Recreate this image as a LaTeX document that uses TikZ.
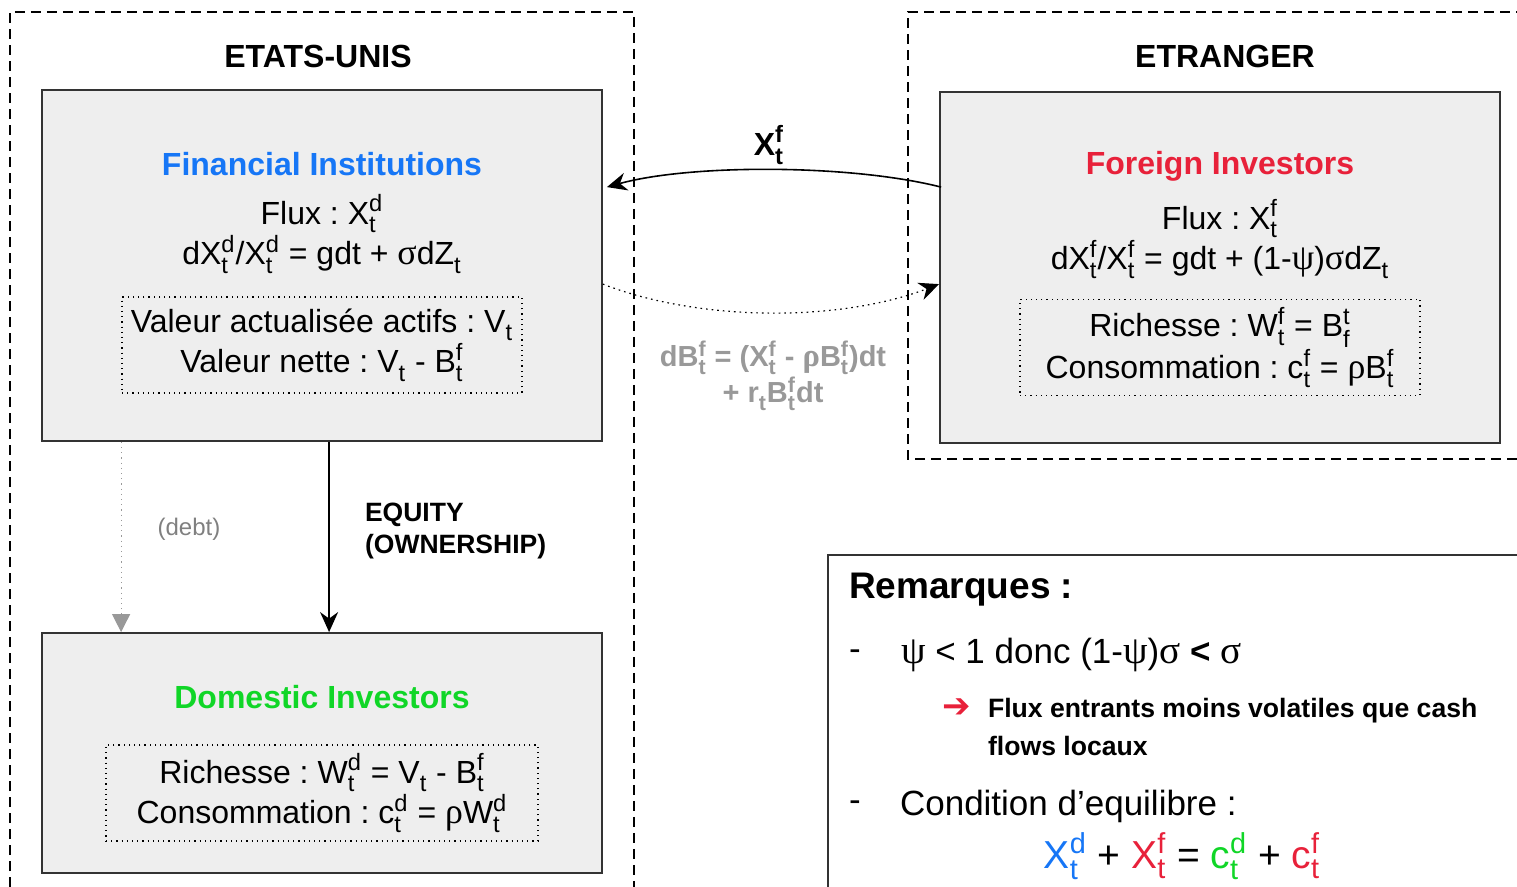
\documentclass[tikz,border=0pt]{standalone}
\usepackage{amsmath}
\usepackage{fontspec}
\setmainfont{Liberation Sans}
\newfontfamily\grk[Scale=1.12]{Liberation Serif}
\newfontfamily\dejavu{DejaVu Sans}
\usepackage{tikz}
\usetikzlibrary{calc}
\usetikzlibrary{positioning}
\usetikzlibrary{arrows.meta}

\definecolor{fiblue}{RGB}{22,118,246}
\definecolor{foired}{RGB}{232,33,58}
\definecolor{digreen}{RGB}{16,214,39}
\definecolor{boxfill}{RGB}{238,238,238}
\definecolor{lightgray}{RGB}{153,153,153}
\definecolor{debtgray}{RGB}{128,128,128}

\renewcommand{\defaultscriptratio}{.74}
\newcommand{\ts}[2]{\ensuremath{_{\text{#1}}^{\text{#2}}}}
\newcommand{\gk}[1]{{\grk #1}}
\frenchspacing

\begin{document}
\begin{tikzpicture}[x=0.5pt,y=-0.5pt,
    zone/.style={dash pattern=on 5pt off 3pt, line width=0.8pt},
    agent/.style={draw=black!80, fill=boxfill, line width=0.9pt, minimum width=280pt, inner sep=0pt},
    detail/.style={draw, dotted, line width=0.6pt, minimum width=200pt, minimum height=48pt, inner sep=0pt},
    body/.style={font=\fontsize{16}{19}\selectfont, align=center},
    head/.style={font=\bfseries\fontsize{16}{19}\selectfont},
    rem/.style={font=\fontsize{17.5}{21}\selectfont},
    flow/.style={-{Stealth[length=10pt,width=9pt]}, line width=0.8pt}]
    \useasboundingbox (0,0) rectangle (1517,887);

    % zones
    \draw[zone] (10,887) -- (10,12) -- (634,12) -- (634,887);
    \draw[zone] (1517,459) -- (908,459) -- (908,12) -- (1517,12);
    \draw[line width=0.8pt, black!80] (1517,555) -- (828,555) -- (828,887);
    \node[head] (us) at (318,56) {ETATS-UNIS};
    \node[head] (etr) at (1225,56) {ETRANGER};

    % agents
    \node[agent, minimum height=175.5pt] (fi) at (322,265.5) {};
    \node[agent, minimum height=175.5pt] (foi) at (1220,267.5) {};
    \node[agent, minimum height=120pt] (di) at (322,753) {};

    \node[head, text=fiblue] (fititle) at (322,164) {Financial Institutions};
    \node[body] (fiflux) at (322,234) {Flux : X\ts{t}{d}\\ dX\ts{t}{d}/X\ts{t}{d} = gdt + \gk{σ}dZ\ts{t}{}};
    \node[detail, body] (fival) at (322,345) {Valeur actualisée actifs : V\ts{t}{}\\ Valeur nette : V\ts{t}{} - B\ts{t}{f}};

    \node[head, text=foired] (foititle) at (1220,166) {Foreign Investors};
    \node[body] (foiflux) at (1220,239) {Flux : X\ts{t}{f}\\ dX\ts{t}{f}/X\ts{t}{f} = gdt + (1-\gk{ψ})\gk{σ}dZ\ts{t}{}};
    \node[detail, body] (foirich) at (1220,347.5) {Richesse : W\ts{t}{f} = B\ts{f}{t}\\ Consommation : c\ts{t}{f} = \gk{ρ}B\ts{t}{f}};

    \node[head, text=digreen] (dititle) at (322,697) {Domestic Investors};
    \node[detail, body, minimum width=216pt] (dirich) at (322,793) {Richesse : W\ts{t}{d} = V\ts{t}{} - B\ts{t}{f}\\ Consommation : c\ts{t}{d} = \gk{ρ}W\ts{t}{d}};

    % flows between the two countries
    \coordinate (xsrc) at ($(foi.north west)+(2,96)$);
    \coordinate (xdst) at ($(fi.north east)+(4,98)$);
    \draw[flow] (xsrc) .. controls (850,164) and (690,164) .. (xdst);
    \node[font=\bfseries\fontsize{16}{19}\selectfont] (xlab) at (769,145) {X\ts{t}{f}};

    \coordinate (bsrc) at ($(fi.north east)+(0,195)$);
    \coordinate (bdst) at ($(foi.north west)+(0,193)$);
    \draw[flow, dotted, line width=0.6pt] (bsrc) .. controls (700,322) and (840,322) .. (bdst);
    \node[font=\bfseries\fontsize{14.5}{18}\selectfont, text=lightgray, align=center] (blab) at (773,376)
        {dB\ts{t}{f} = (X\ts{t}{f} - \gk{ρ}B\ts{t}{f})dt\\ + r\ts{t}{}B\ts{t}{f}dt};

    % inside the US
    \draw[dotted, lightgray, line width=0.6pt, -{Triangle[length=9pt,width=9pt]}]
        ($(fi.south west)+(80,0)$) -- ($(di.north west)+(80,0)$);
    \draw[flow] ($(fi.south west)+(288,0)$) -- ($(di.north west)+(288,0)$);
    \node[text=debtgray, font=\fontsize{12}{14}\selectfont] (debt) at (189,529) {(debt)};
    \node[font=\bfseries\fontsize{13.25}{16}\selectfont, align=left, anchor=west] (equity) at (358,531) {EQUITY\\ (OWNERSHIP)};

    % remarks
    \node[font=\bfseries\fontsize{18.5}{22}\selectfont, anchor=west] (remtitle) at (842,590) {Remarques :};
    \node[rem] (dash1) at (855,655) {-};
    \node[rem, anchor=west] (psi) at (894,655) {\gk{ψ} < 1 donc (1-\gk{ψ})\gk{σ} \textbf{<} \gk{σ}};
    \node[text=foired, font=\dejavu\bfseries\fontsize{17}{19}\selectfont] (arr) at (957,708) {➔};
    \node[font=\bfseries\fontsize{13.3}{19}\selectfont, align=left, anchor=west] (flux) at (981,727)
        {Flux entrants moins volatiles que cash\\ flows locaux};
    \node[rem] (dash2) at (855,806) {-};
    \node[rem, anchor=west] (cond) at (893,806) {Condition d’equilibre :};
    \node[font=\fontsize{19.5}{23}\selectfont] (eq) at (1182,856) {\textcolor{fiblue}{X\ts{t}{d}} + \textcolor{foired}{X\ts{t}{f}} = \textcolor{digreen}{c\ts{t}{d}} + \textcolor{foired}{c\ts{t}{f}}};
\end{tikzpicture}
\end{document}
